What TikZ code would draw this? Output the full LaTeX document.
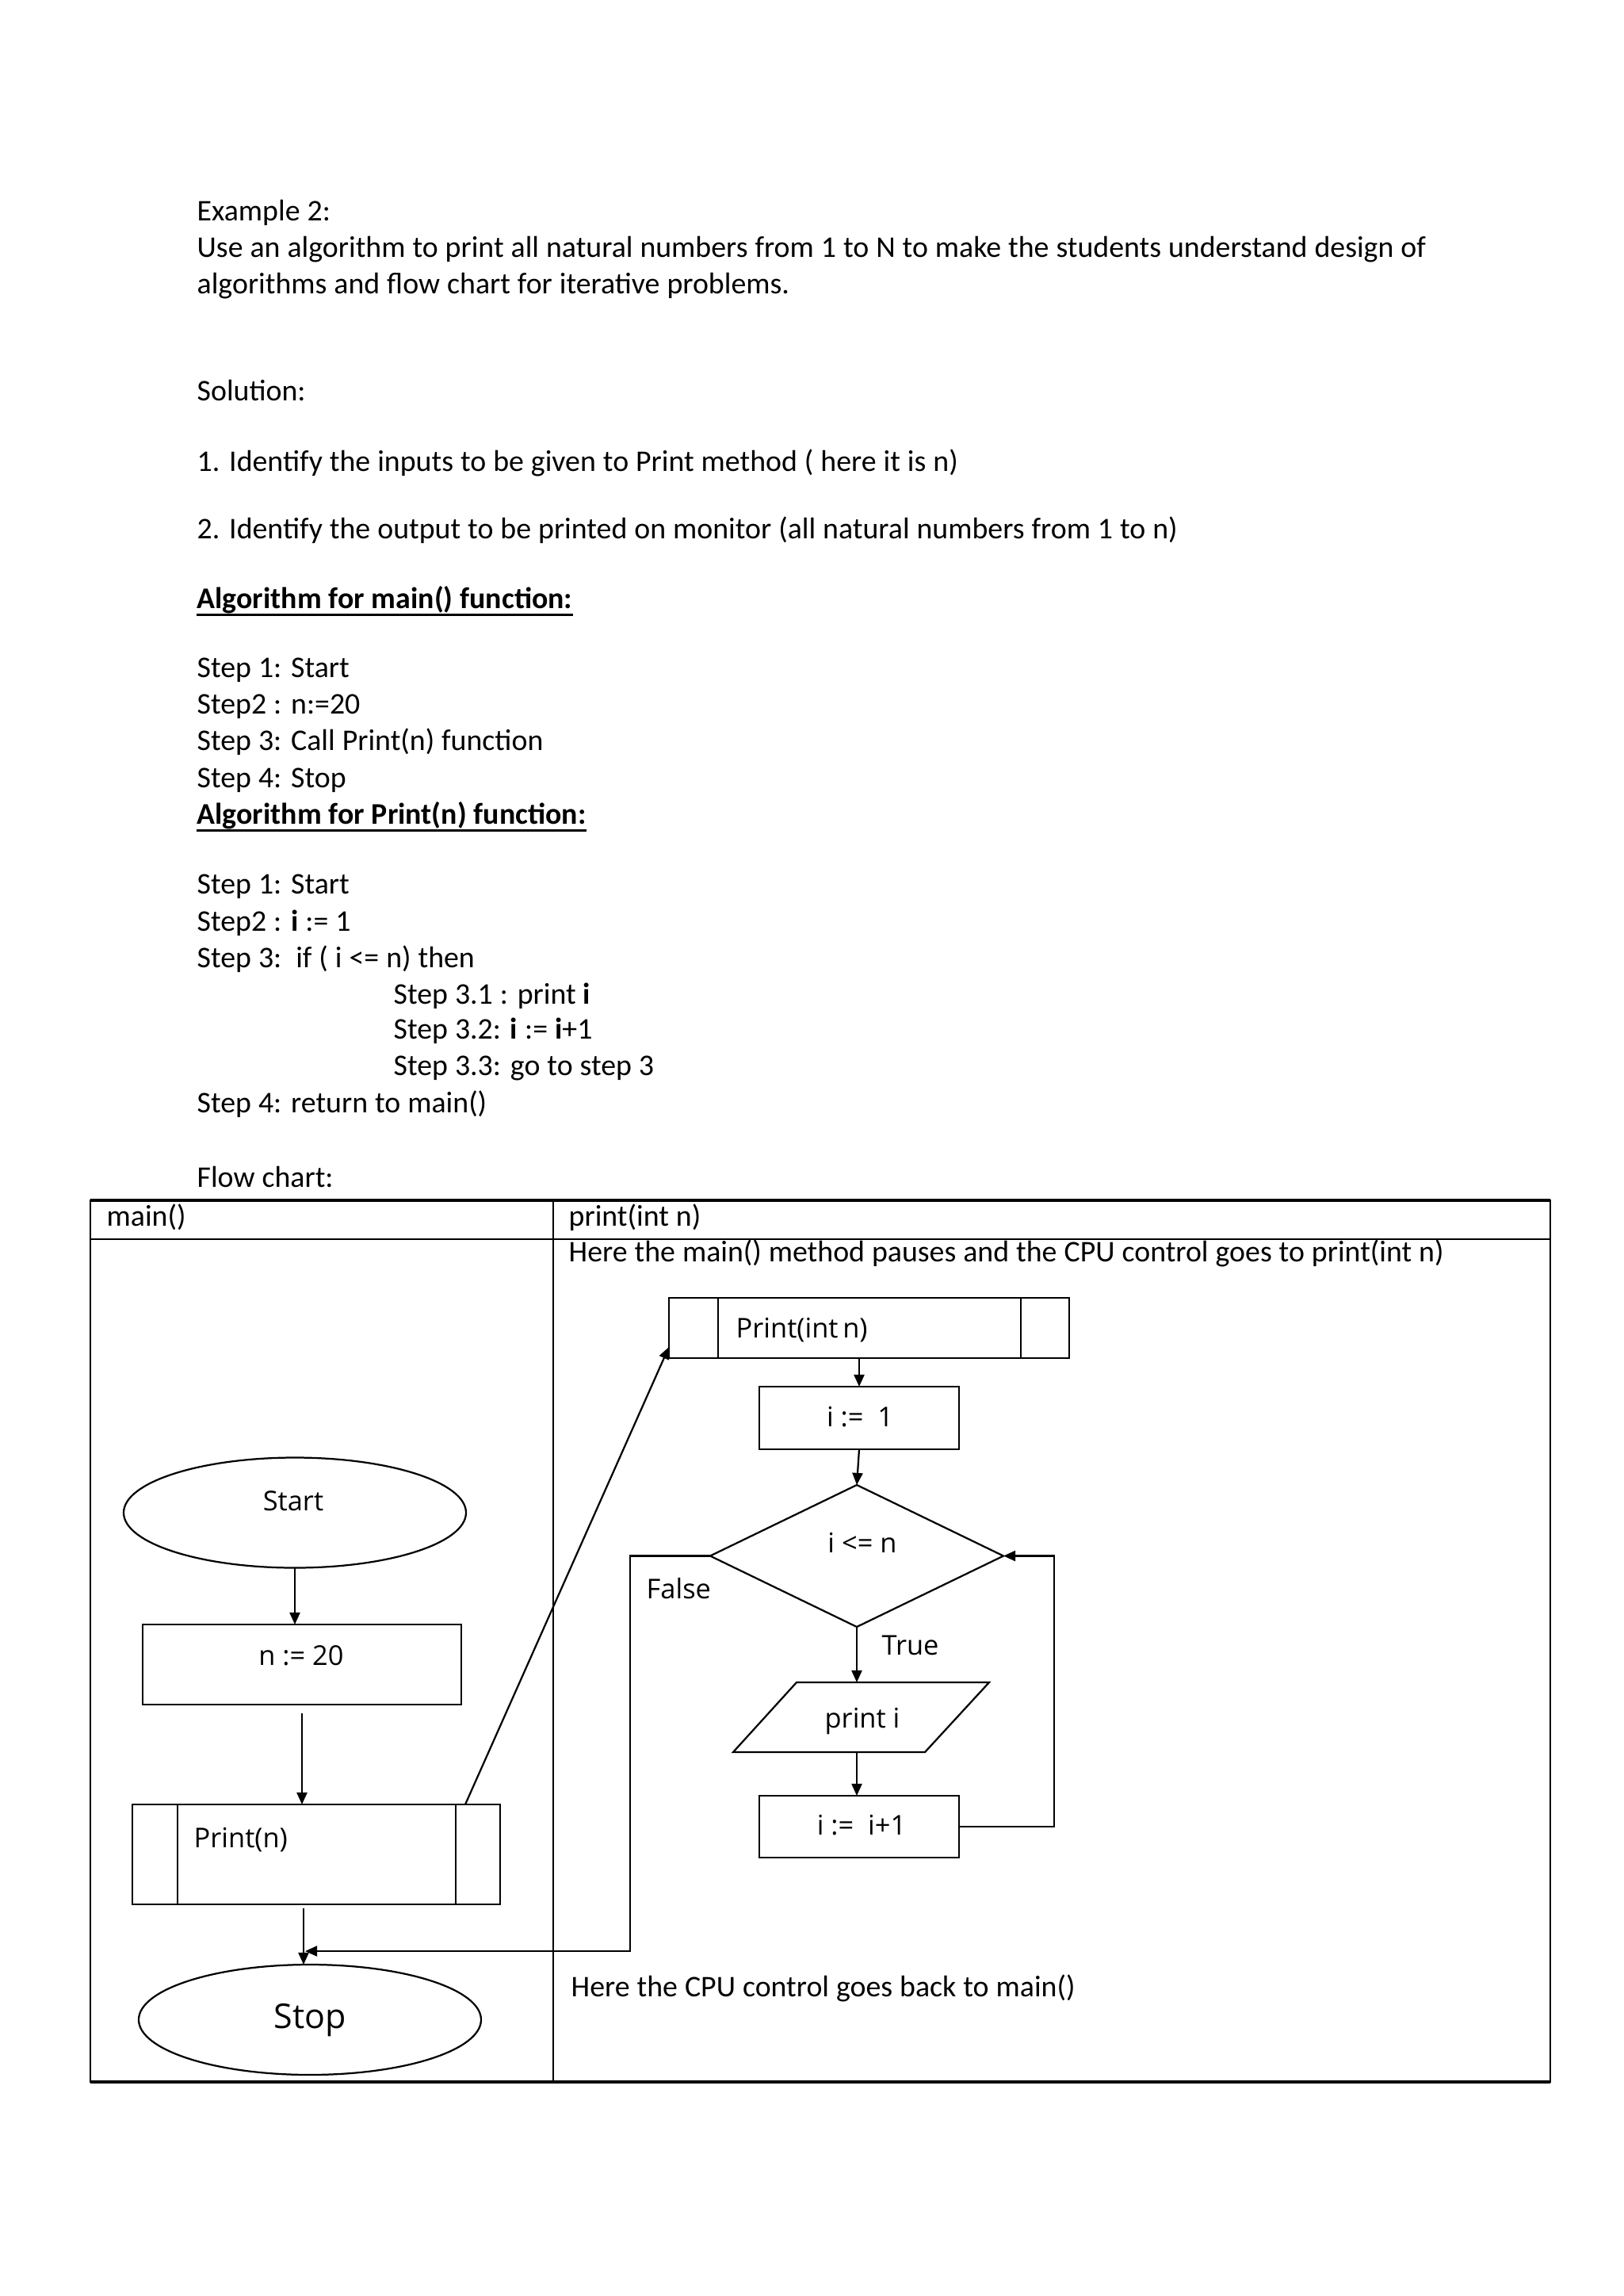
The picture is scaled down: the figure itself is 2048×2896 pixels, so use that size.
\documentclass[tikz,border=0pt]{standalone}
\usepackage{fontspec}
\setmainfont{Carlito}[WordSpace=1.05]
\newfontfamily\chartfont{Open Sans}
\usetikzlibrary{arrows.meta,shapes.geometric}
\begin{document}
\begin{tikzpicture}[x=0.29067pt,y=-0.29067pt,
  txt/.style={anchor=base west, inner sep=0pt, font=\fontsize{11}{13.4}\selectfont},
  btxt/.style={txt, font=\fontsize{11}{13.4}\selectfont\bfseries},
  lbl/.style={anchor=base, inner sep=0pt, font=\chartfont\fontsize{10}{12}\selectfont},
  lblw/.style={lbl, anchor=base west},
  sz/.style 2 args={minimum width=#1*0.29067pt, minimum height=#2*0.29067pt},
  shp/.style={draw, line width=0.65pt, inner sep=0pt, outer sep=0pt},
  boxs/.style={shp, rectangle},
  ells/.style={shp, ellipse},
  dias/.style={shp, diamond},
  arr/.style={line width=0.65pt, -{Triangle[length=4.4pt,width=3.8pt]}},
  uline/.style={line width=0.75pt},
  tbl/.style={line width=0.7pt},
  tblb/.style={line width=1pt}]
\useasboundingbox (0,0) rectangle (2048,2896);
\fill[white] (0,0) rectangle (2048,2896);

% ---- text part ----
\node[txt] (t1) at (248,278) {Example 2:};
\node[txt] (t2) at (248,324) {Use an algorithm to print all natural numbers from 1 to N to make the students understand design of};
\node[txt] (t3) at (248,370) {algorithms and flow chart for iterative problems.};
\node[txt] (t4) at (248,505) {Solution:};
\node[txt] (t5) at (248,594) {1. Identify the inputs to be given to Print method ( here it is n)};
\node[txt] (t6) at (248,679) {2. Identify the output to be printed on monitor (all natural numbers from 1 to n)};
\node[btxt] (t7) at (248,767) {Algorithm for main() function:};
\draw[uline] ([yshift=-2.4pt]t7.base west) -- ([yshift=-2.4pt]t7.base east);
\node[txt] (t8) at (248,854) {Step 1: Start};
\node[txt] (t9) at (248,900) {Step2 : n:=20};
\node[txt] (t10) at (248,946) {Step 3: Call Print(n) function};
\node[txt] (t11) at (248,993) {Step 4: Stop};
\node[btxt] (t12) at (248,1039) {Algorithm for Print(n) function:};
\draw[uline] ([yshift=-2.4pt]t12.base west) -- ([yshift=-2.4pt]t12.base east);
\node[txt] (t13) at (248,1127) {Step 1: Start};
\node[txt] (t14) at (248,1174) {Step2 : \textbf{i} := 1};
\node[txt] (t15) at (248,1220) {Step 3:\ \ if ( i <= n) then};
\node[txt] (t16) at (496,1266) {Step 3.1 : print \textbf{i}};
\node[txt] (t17) at (496,1310) {Step 3.2: \textbf{i} := \textbf{i}+1};
\node[txt] (t18) at (496,1356) {Step 3.3: go to step 3};
\node[txt] (t19) at (248,1403) {Step 4: return to main()};
\node[txt] (t20) at (248,1497) {Flow chart:};

% ---- table ----
\coordinate (tTL) at (114,1514);
\coordinate (tBR) at (1956,2626);
\coordinate (tDiv) at (698,1514);
\draw[tbl] (tTL) rectangle (tBR);
\draw[tblb] (tTL) -- (tTL -| tBR);
\draw[tblb] (tTL |- tBR) -- (tBR);
\draw[tbl] (114,1563) -- (1956,1563);
\draw[tbl] (tDiv) -- (tDiv |- tBR);
\node[txt] (h1) at (134,1546) {main()};
\node[txt] (h2) at (717,1546) {print(int n)};
\node[txt] (h3) at (717,1591) {Here the main() method pauses and the CPU control goes to print(int n)};
\node[txt] (h4) at (720,2518) {Here the CPU control goes back to main()};

% ---- main() column ----
\node[ells, sz={432}{139}] (start) at (372,1908) {};
\node[lbl] (startl) at (370,1905) {Start};
\node[boxs, sz={402}{101}] (n20) at (381,2099.5) {};
\node[lbl] (n20l) at (380,2100) {n := 20};
\node[boxs, sz={464}{126}] (printn) at (399,2339) {};
\draw[line width=0.65pt] ([shift={(57,0)}]printn.north west) -- ([shift={(57,0)}]printn.south west);
\draw[line width=0.65pt] ([shift={(-56,0)}]printn.north east) -- ([shift={(-56,0)}]printn.south east);
\node[lblw] (printnl) at (244,2330) {Print(n)};
\node[ells, sz={432}{139}] (stop) at (391,2547.5) {};
\node[lbl, font=\chartfont\fontsize{12.5}{15}\selectfont] (stopl) at (391,2558) {Stop};

% ---- print(int n) column ----
\node[boxs, sz={505}{76}] (printint) at (1096.5,1675) {};
\draw[line width=0.65pt] ([shift={(62,0)}]printint.north west) -- ([shift={(62,0)}]printint.south west);
\draw[line width=0.65pt] ([shift={(-61,0)}]printint.north east) -- ([shift={(-61,0)}]printint.south east);
\node[lblw] (printintl) at (928,1687) {Print(int\,n)};
\node[boxs, sz={252}{79}] (i1) at (1084,1788.5) {};
\node[lbl] (i1l) at (1085,1799) {i :=\ \ 1};
\node[dias, sz={370}{179}] (dia) at (1081,1962.5) {};
\node[lbl] (dial) at (1088,1958) {i <= n};
\coordinate (pTL) at (1005,2122);
\coordinate (pTR) at (1248,2122);
\coordinate (pBR) at (1167,2210);
\coordinate (pBL) at (925,2210);
\draw[line width=0.65pt] (pTL) -- (pTR) -- (pBR) -- (pBL) -- cycle;
\node[lbl] (paral) at (1088,2179) {print i};
\node[boxs, sz={252}{78}] (incr) at (1084,2304) {};
\node[lbl] (incrl) at (1087,2314) {i :=\ \ i+1};
\node[lblw] (falsel) at (815,2016) {False};
\node[lblw] (truel) at (1112,2087) {True};

% ---- connectors ----
\coordinate (sx) at (383,0);
\coordinate (fx) at (795,0);
\coordinate (fy) at (0,2461);
\coordinate (lx) at (1330,0);
\draw[arr] (start.south) -- (start.south |- n20.north);
\draw[arr, shorten <=3.2pt] (n20.south) -- (n20.south |- printn.north);
\draw[arr, shorten <=1.5pt] (printn.south -| sx) -- (stop.north -| sx);
\draw[arr] ([shift={(-44,0)}]printn.north east) -- ([shift={(0,-14)}]printint.south west);
\draw[arr] (printint.south -| i1.north) -- (i1.north);
\draw[arr] (i1.south) -- (dia.north);
\draw[arr] (dia.south) -- (dia.south |- pTL);
\draw[arr] (dia.south |- pBL) -- (dia.south |- incr.north);
\draw[arr] (incr.east) -- (incr.east -| lx) -- (lx |- dia.east) -- (dia.east);
\draw[arr] (dia.west) -- (dia.west -| fx) -- (fx |- fy) -- ([shift={(2,0)}]sx |- fy);
\end{tikzpicture}
\end{document}
